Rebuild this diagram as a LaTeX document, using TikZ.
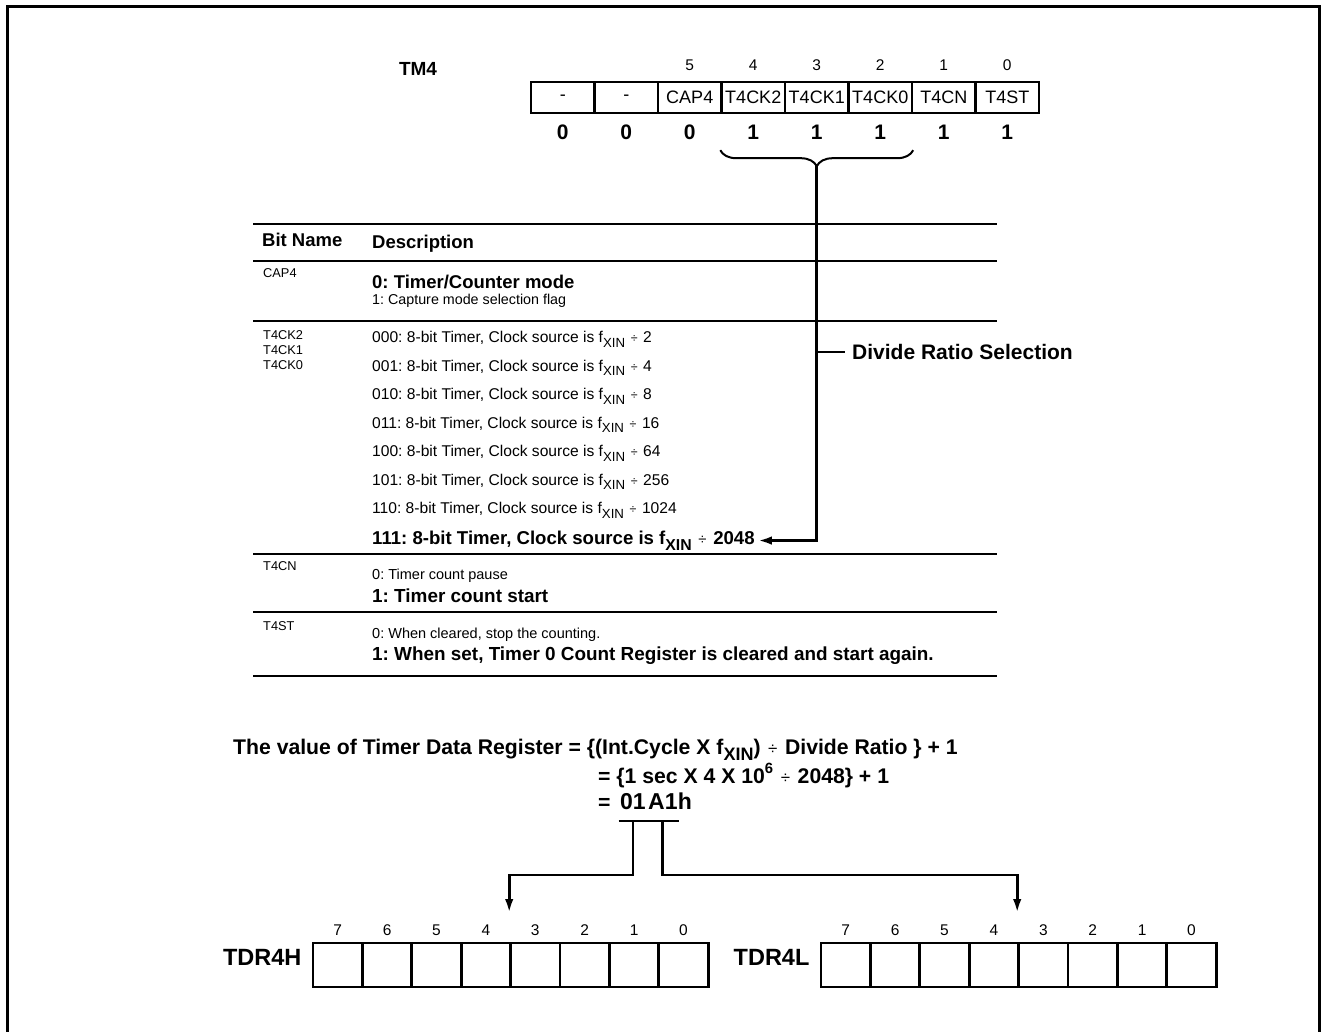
\documentclass[tikz,border=0pt]{standalone}
\usepackage{fontspec}
\setmainfont{Liberation Sans}
\usepackage{graphicx}
\usetikzlibrary{calc,decorations.pathreplacing,arrows.meta}
\newcommand\fs[1]{\fontsize{#1}{#1}\selectfont}
\newcommand\xin{\raisebox{-0.32em}{\scalebox{0.85}{XIN}}}
\newcommand\dvd{\hspace{0.08em}\textmd{\scalebox{0.8}{÷}}\hspace{0.08em}}
\frenchspacing
\begin{document}
\frenchspacing
\begin{tikzpicture}[x=1pt,y=-1pt,
  conn/.style={line width=2.8pt},
  tip/.style={-{Latex[length=14pt,width=8.5pt]}},
  cell/.style={draw,line width=2.4pt,minimum width=63.5pt,minimum height=31pt,inner sep=0pt,font=\fs{18}},
  tcell/.style={draw,line width=2.8pt,minimum width=49.4pt,minimum height=44pt,inner sep=0pt},
  bnum/.style={inner sep=0pt,anchor=base,font=\fs{15.5}},
  val/.style={inner sep=0pt,anchor=base,font=\fs{21}\bfseries},
  rg/.style={inner sep=0pt,anchor=base west,font=\fs{14.5}},
  nm/.style={inner sep=0pt,anchor=base west,font=\fs{12.8}},
  bd/.style={inner sep=0pt,anchor=base west,font=\fs{18.5}\bfseries},
  fm/.style={inner sep=0pt,anchor=base west,font=\fs{21.2}\bfseries},
  tline/.style={line width=2pt},
]
\useasboundingbox (0,0) rectangle (1323,1032);
\draw[line width=3pt] (7,1032) -- (7,7) -- (1319,7) -- (1319,1032);

% ---- TM4 register
\node[font=\fs{19}\bfseries,inner sep=0pt] (tm4) at (418,69) {TM4};
\foreach \t [count=\i from 0] in {-,-,CAP4,T4CK2,T4CK1,T4CK0,T4CN,T4ST}
  \node[cell] (c\i) at ({562.75+63.5*\i},97.5) {\t};
\foreach \i in {2,...,7}{
  \pgfmathtruncatemacro\b{7-\i}
  \node[bnum] (b\i) at ($(c\i.north)+(0,-10)$) {\b};}
\foreach \v [count=\i from 0] in {0,0,0,1,1,1,1,1}
  \node[val] (v\i) at ($(c\i.south)+(0,25.5)$) {\v};

\draw[line width=2pt,decorate,decoration={brace,mirror,amplitude=16pt}]
  ($(c3.south west)+(0,36)$) -- ($(c5.south east)+(0,36)$);
\coordinate (bt) at ($(c4.south)+(0,52)$);

% ---- table
\foreach \y in {224,261,321,554,612,676} \draw[tline] (253,\y) -- (997,\y);
\node[bd] (hbn) at (262,246.6) {Bit Name};
\node[bd] (hds) at (372,248.6) {Description};
\node[nm] (ncap) at (263,277.6) {CAP4};
\node[bd] (cap0) at (372,288.6) {0: Timer/Counter mode};
\node[rg,font=\fs{14.3}] (cap1) at (372,304.6) {1: Capture mode selection flag};
\node[nm] (nck2) at (263,339.6) {T4CK2};
\node[nm] (nck1) at (263,354.6) {T4CK1};
\node[nm] (nck0) at (263,369.6) {T4CK0};
\foreach \cd/\dd [count=\k from 0] in {000/2,001/4,010/8,011/16,100/64,101/256,110/1024}
  \node[rg,font=\fs{15.6}] (r\k) at (372,{342.5+28.5*\k}) {\cd: 8-bit Timer, Clock source is f\xin\ \dvd\ \dd};
\node[bd,font=\fs{18.6}\bfseries] (r7) at (372,544.3) {111: 8-bit Timer, Clock source is f\xin\ \dvd\ 2048};
\node[nm] (ncn) at (263,570.6) {T4CN};
\node[rg] (cn0) at (372,579.2) {0: Timer count pause};
\node[bd,font=\fs{18.9}\bfseries] (cn1) at (372,602.8) {1: Timer count start};
\node[nm] (nst) at (263,630.6) {T4ST};
\node[rg] (st0) at (372,638.2) {0: When cleared, stop the counting.};
\node[bd,font=\fs{18.9}\bfseries] (st1) at (372,660.8) {1: When set, Timer 0 Count Register is cleared and start again.};

\node[inner sep=0pt,anchor=west,font=\fs{21}\bfseries] (dr) at (852,352) {Divide Ratio Selection};
\draw[conn,tip] (bt) |- ([xshift=3pt]r7.east);
\draw[conn] (bt |- dr.west) -- ([xshift=-7pt]dr.west);

% ---- formula
\node[fm] (f1) at (233,754) {The value of Timer Data Register = \{(Int.Cycle X f\xin) \dvd\ Divide Ratio \} + 1};
\node[fm] (f2) at (598,783) {= \{1 sec X 4 X 10\raisebox{0.45em}{\scalebox{0.7}{6}} \dvd\ 2048\} + 1};
\node[fm] (f3) at (598,809) {=};
\node[fm,font=\fs{23}\bfseries] (hi) at (620,809) {01};
\node[fm,font=\fs{23}\bfseries] (lo) at ($(hi.base east)+(2,0)$) {A1};
\node[fm,font=\fs{23}\bfseries] (hh) at (lo.base east) {h};
\coordinate (hu) at ($(hi.base)+(0,12)$);
\coordinate (lu) at ($(lo.base)+(0,12)$);
\draw[conn] ($(hi.base west)+(-1.5,12)$) -- ($(hi.base east)+(1.5,12)$);
\draw[conn] ($(lo.base west)+(-1.5,12)$) -- ($(lo.base east)+(1.5,12)$);

% ---- TDR registers
\foreach \i in {0,...,7}{
  \node[tcell] (h\i) at ({337.7+49.4*\i},965) {};
  \node[tcell] (l\i) at ({845.7+49.4*\i},965) {};
  \pgfmathtruncatemacro\b{7-\i}
  \node[bnum] (hb\i) at ($(h\i.north)+(0,-6.5)$) {\b};
  \node[bnum] (lb\i) at ($(l\i.north)+(0,-6.5)$) {\b};}
\node[font=\fs{23.5}\bfseries,anchor=east,inner sep=0pt] (th) at ($(h0.west)+(-10,-8)$) {TDR4H};
\node[font=\fs{23.5}\bfseries,anchor=east,inner sep=0pt] (tl) at ($(l0.west)+(-10,-8)$) {TDR4L};

\coordinate (yb) at (0,875);
\coordinate (ya) at (0,913);
\draw[conn,tip] (hu) -- (hu |- yb) -| (h4.west |- ya);
\draw[conn,tip] (lu) -- (lu |- yb) -| (l4.west |- ya);
\end{tikzpicture}
\end{document}
